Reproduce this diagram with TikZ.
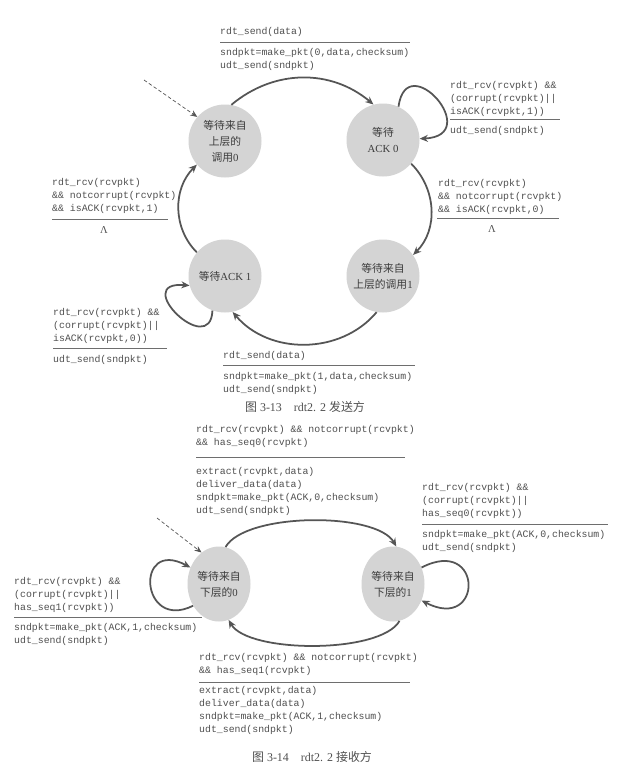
\documentclass[tikz,border=0pt]{standalone}
\usepackage{fontspec}
\setmainfont{Liberation Serif}
\newfontfamily\cjk{Noto Sans CJK SC}
\newfontfamily\mono{Liberation Mono}
\usetikzlibrary{arrows.meta,shapes.geometric}
\definecolor{txt}{HTML}{505050}
\definecolor{statetxt}{HTML}{3C3C3C}
\definecolor{stategray}{HTML}{D4D4D4}
\definecolor{arrowgray}{HTML}{555555}
\definecolor{sepgray}{HTML}{6E6E6E}
\begin{document}
\begin{tikzpicture}[x=0.03cm,y=-0.03cm,
  code/.style={anchor=north west, inner sep=0pt, align=left, text=txt,
    font=\mono\fontsize{8.4}{11.06}\selectfont},
  state/.style={circle, fill=stategray, minimum size=2.19cm, inner sep=0pt,
    align=center, text=statetxt, font=\fontsize{9.2}{13.6}\selectfont},
  rstate/.style={ellipse, fill=stategray, minimum width=1.89cm, minimum height=2.25cm,
    inner sep=0pt, align=center, text=statetxt, font=\fontsize{9.2}{13.6}\selectfont},
  trans/.style={draw=arrowgray, line width=1.5pt, -{Stealth[length=7pt,width=6pt]}},
  init/.style={draw=arrowgray, line width=0.6pt, dash pattern=on 3pt off 2pt,
    -{Stealth[length=6pt,width=5pt]}},
  sepline/.style={draw=sepgray, line width=0.7pt},
  lam/.style={inner sep=0pt, text=txt, font=\fontsize{9}{10}\selectfont},
  captxt/.style={inner sep=0pt, text=txt, font=\fontsize{10.2}{12}\selectfont}
]
\useasboundingbox (0,0) rectangle (622,777);
\fill[white] (0,0) rectangle (622,777);

% ---------------- Figure 3-13: sender ----------------
\node[state] (s0) at (225,141) {{\cjk 等待来自}\\{\cjk 上层的}\\{\cjk 调用}0};
\node[state] (a0) at (383,140) {{\cjk 等待}\\ACK 0};
\node[state] (a1) at (225,276) {{\cjk 等待}ACK 1};
\node[state] (c1) at (383,276) {{\cjk 等待来自}\\{\cjk 上层的调用}1};

\coordinate (d0) at (144,80);
\draw[init] (d0) -- (s0.139);

\draw[trans] (s0.80) to[out=40,in=140] (a0.105);
\draw[trans] (a0.-40) to[out=-45,in=45] (c1.35);
\draw[trans] (c1.-100) to[out=-130,in=-50] (a1.-78);
\draw[trans] (a1.140) to[out=135,in=225] (s0.220);
\draw[trans] (a0.65) .. controls +(8,-60) and +(65,-3) .. (a0.2);
\draw[trans] (a1.250) .. controls +(-2,49) and +(-60,-5) .. (a1.195);

\node[code] (t1a) at (220,27.5) {rdt\_send(data)};
\draw[sepline] (220,42) -- (410,42);
\node[code] (t1b) at (220,48.5) {sndpkt=make\_pkt(0,data,checksum)\\udt\_send(sndpkt)};

\node[code] (t2a) at (450,81.5) {rdt\_rcv(rcvpkt) \&\&\\(corrupt(rcvpkt)||\\isACK(rcvpkt,1))};
\draw[sepline] (450,119) -- (560,119);
\node[code] (t2b) at (450,126.5) {udt\_send(sndpkt)};

\node[code] (t3a) at (438,179.5) {rdt\_rcv(rcvpkt)\\\&\& notcorrupt(rcvpkt)\\\&\& isACK(rcvpkt,0)};
\draw[sepline] (437,218) -- (559,218);
\node[lam] (l3) at (492,229) {Λ};

\node[code] (t4a) at (52,178.5) {rdt\_rcv(rcvpkt)\\\&\& notcorrupt(rcvpkt)\\\&\& isACK(rcvpkt,1)};
\draw[sepline] (52,219) -- (168,219);
\node[lam] (l4) at (104,230) {Λ};

\node[code] (t5a) at (53,308.5) {rdt\_rcv(rcvpkt) \&\&\\(corrupt(rcvpkt)||\\isACK(rcvpkt,0))};
\draw[sepline] (53,348) -- (167,348);
\node[code] (t5b) at (53,355.5) {udt\_send(sndpkt)};

\node[code] (t6a) at (223,351.5) {rdt\_send(data)};
\draw[sepline] (223,365) -- (415,365);
\node[code] (t6b) at (223,372.5) {sndpkt=make\_pkt(1,data,checksum)\\udt\_send(sndpkt)};

\node[captxt] (cap1) at (305,407) {{\cjk 图} 3-13\hspace{1em}rdt2. 2 {\cjk 发送方}};

% ---------------- Figure 3-14: receiver ----------------
\node[rstate] (r0) at (219,584) {{\cjk 等待来自}\\{\cjk 下层的}0};
\node[rstate] (r1) at (393,584) {{\cjk 等待来自}\\{\cjk 下层的}1};

\coordinate (d1) at (157,518);
\draw[init] (d1) -- (r0.119);

\draw[trans] (r0.80) to[out=60,in=120,looseness=0.6] (r1.85);
\draw[trans] (r1.-80) to[out=-120,in=-60,looseness=0.575] (r0.-75);
\draw[trans] (r0.-140) .. controls +(-53,26) and +(-56,-30) .. (r0.150);
\draw[trans] (r1.30) .. controls +(62,-32) and +(62,32) .. (r1.-30);

\node[code] (b1a) at (196,425.5) {rdt\_rcv(rcvpkt) \&\& notcorrupt(rcvpkt)\\\&\& has\_seq0(rcvpkt)};
\draw[sepline] (196,457) -- (405,457);
\node[code] (b1b) at (196,467.5) {extract(rcvpkt,data)\\deliver\_data(data)\\sndpkt=make\_pkt(ACK,0,checksum)\\udt\_send(sndpkt)};

\node[code] (b2a) at (422,483.5) {rdt\_rcv(rcvpkt) \&\&\\(corrupt(rcvpkt)||\\has\_seq0(rcvpkt))};
\draw[sepline] (422,524) -- (608,524);
\node[code] (b2b) at (422,530.5) {sndpkt=make\_pkt(ACK,0,checksum)\\udt\_send(sndpkt)};

\node[code] (b3a) at (14,577.5) {rdt\_rcv(rcvpkt) \&\&\\(corrupt(rcvpkt)||\\has\_seq1(rcvpkt))};
\draw[sepline] (14,617) -- (202,617);
\node[code] (b3b) at (14,623.5) {sndpkt=make\_pkt(ACK,1,checksum)\\udt\_send(sndpkt)};

\node[code] (b4a) at (199,653.5) {rdt\_rcv(rcvpkt) \&\& notcorrupt(rcvpkt)\\\&\& has\_seq1(rcvpkt)};
\draw[sepline] (199,682) -- (410,682);
\node[code] (b4b) at (199,686.5) {extract(rcvpkt,data)\\deliver\_data(data)\\sndpkt=make\_pkt(ACK,1,checksum)\\udt\_send(sndpkt)};

\node[captxt] (cap2) at (312,757) {{\cjk 图} 3-14\hspace{1em}rdt2. 2 {\cjk 接收方}};
\end{tikzpicture}
\end{document}
